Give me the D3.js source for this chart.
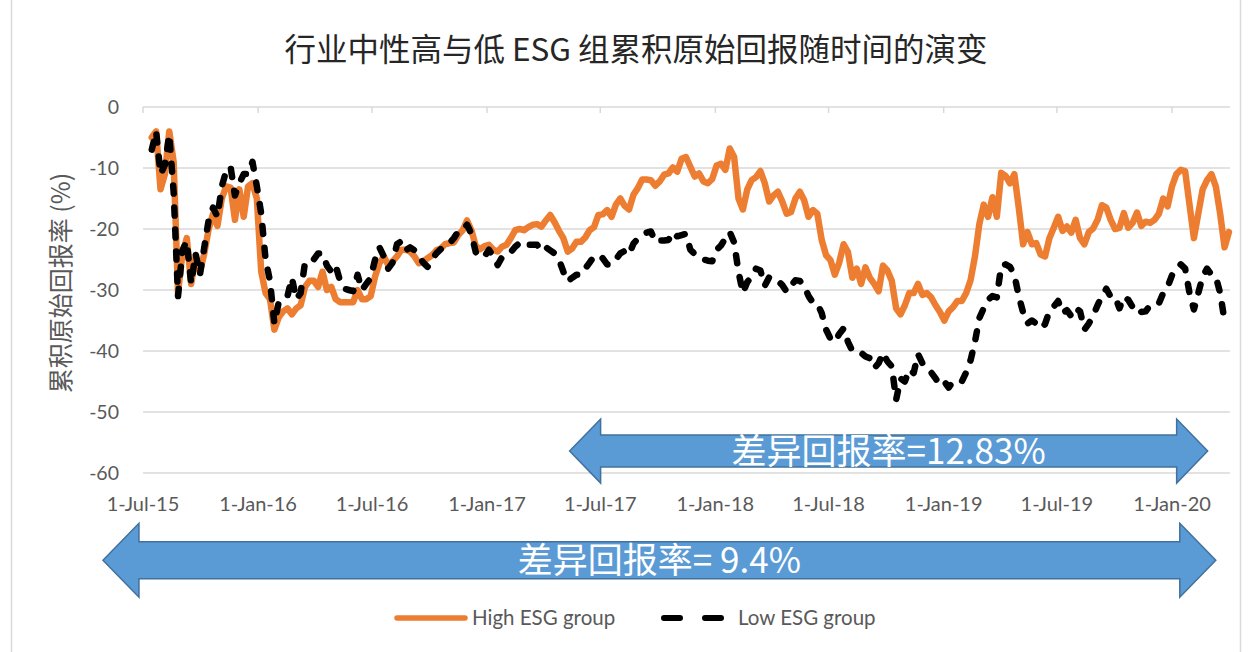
<!DOCTYPE html>
<html>
<head>
<meta charset="utf-8">
<script src="https://cdn.jsdelivr.net/npm/d3@7"></script>
<style>
  html, body { margin: 0; padding: 0; background: #fff; }
  svg { display: block; font-family: Lato, "Noto Sans CJK SC", sans-serif; }
</style>
</head>
<body>
<div class="chart"></div>
<script>
// weekly observations, first one on 15 Jul 2015
const firstWeek = "2015-07-15";

const highESG = [
  -5, -4, -13.5, -11, -4, -9, -30.5, -24, -21.5, -29,
  -24.5, -27, -24, -20, -17.5, -19.5, -15, -13, -13.2, -18.5,
  -13.5, -18, -13, -12.5, -15, -27, -30.5, -31.5, -36.5, -34.5,
  -33.5, -33, -34, -33, -32.5, -29.5, -28.5, -28.5, -29.5, -27,
  -30, -29.5, -31.5, -32, -32, -32, -32, -30, -31.5, -31.5,
  -31, -27.8, -25.6, -24.5, -25.9, -25.3, -24.5, -23.4, -23.4, -23.7,
  -24.5, -25.6, -25.3, -24.8, -24.3, -23.5, -23.2, -22.5, -22.3, -22.2,
  -21, -20.2, -18.6, -20.2, -22.8, -23.3, -22.8, -22.6, -23.4, -23.7,
  -22.9, -22.6, -21.5, -20.2, -20, -20.2, -19.7, -19.3, -19.2, -19.6,
  -18.6, -17.7, -18.9, -20.3, -21.5, -23.7, -23.2, -22.1, -22.1, -21.4,
  -20.2, -19.7, -17.7, -17.6, -16.9, -18, -16, -15, -16.2, -16.8,
  -14.4, -13.3, -11.9, -11.9, -12, -12.9, -12.2, -11.1, -10.9, -9.9,
  -10.6, -8.5, -8.2, -9.8, -11.4, -10.9, -12.2, -12.5, -11.8, -9.6,
  -9.3, -10.3, -6.8, -8.2, -15, -16.8, -13.5, -12, -11.5, -10.5,
  -12.5, -15.5, -14.5, -13.9, -15.5, -17.5, -17.2, -15, -13.9, -15.3,
  -18, -16.9, -17.5, -21.8, -24.3, -25.1, -27.5, -25.5, -22.5, -23.8,
  -28, -26.5, -29, -26.3, -28, -29, -30.2, -26, -26.8, -28.5,
  -33, -34, -32.5, -30.5, -30.5, -29, -30.8, -30.5, -31.2, -32.5,
  -33.6, -35, -33.5, -32.8, -31.8, -31.8, -30.5, -28.4, -24.5, -19.2,
  -16, -18, -14.8, -18, -10.8, -11.3, -12.5, -11, -16.5, -22.5,
  -20.5, -22.5, -22.3, -24.2, -24.5, -21.5, -19.8, -18, -20.3, -19.6,
  -20.6, -18.5, -21.5, -22.5, -20.5, -19.9, -18.5, -16.1, -16.5, -18.5,
  -20, -19.8, -17.4, -19.8, -19, -17.3, -19.5, -18.8, -19, -18.5,
  -17.5, -15, -16.3, -13, -11, -10.3, -10.5, -16, -21.5, -17.5,
  -13.5, -12, -11, -13, -17.5, -23, -20.5
];

const lowESG = [
  -7, -4, -11, -9.5, -4.5, -14, -31, -23.5, -22, -29,
  -24, -27.5, -23, -18.5, -16.5, -18, -13, -10.5, -9.8, -14.5,
  -12.5, -11, -11, -9, -13, -17.5, -25, -28.5, -35.5, -32,
  -31.5, -31, -28, -31.5, -30.5, -25.5, -25, -25, -24, -24,
  -26, -27, -26, -28.5, -29.8, -30, -30.2, -27.5, -30, -29,
  -28, -25, -23, -24.5, -26.5, -25.5, -22.5, -22, -23.5, -23,
  -23.5, -24.5, -25.5, -26.2, -25, -24, -23.3, -22.6, -22.3, -21.5,
  -20.4, -20.2, -19.3, -20.8, -23.8, -24.6, -24.5, -23.4, -24.5, -25.9,
  -24.6, -24, -23.8, -22.9, -22.3, -22.1, -22.6, -22.6, -22.6, -23.6,
  -23, -23.5, -24, -25, -27, -28.6, -28, -27.5, -27.5, -26.5,
  -25.5, -24.5, -24.3, -24.8, -25.8, -25.8, -25, -24, -23.6, -24.2,
  -22.4, -21.6, -21.2, -20.6, -20.4, -22.1, -21.9, -21.9, -21.8, -20.5,
  -21.2, -21, -20.8, -23.4, -24.1, -24.6, -25, -25.2, -25.3, -23.4,
  -22.7, -21.5, -20.5, -22.2, -27, -30.5, -28.7, -27.8, -26.5, -26.8,
  -29.3, -27.9, -28, -28.5, -29.2, -30.3, -29.3, -28.4, -28.5, -29.3,
  -31, -32.1, -32.2, -33.8, -36.5, -38, -38.5, -37.2, -36.3, -38.5,
  -40, -40.2, -40.3, -40.9, -41.2, -42.8, -42, -40.3, -41.7, -42.5,
  -48, -44.5, -45, -43, -43.6, -40.5, -42, -42.6, -43.5, -44.5,
  -45.5, -45, -46, -45, -45, -45, -43.5, -41.5, -38.5, -34.6,
  -33, -31.6, -31, -31.2, -26, -25.8, -26.2, -27.5, -31, -33.7,
  -35.5, -35, -35.5, -36.3, -35.6, -33.5, -32.7, -31.8, -33.8, -33.3,
  -34.3, -33, -33.5, -36.5, -35.5, -34.2, -32.5, -31, -29.8, -31.1,
  -31.1, -33, -31.1, -31.6, -32.8, -32.5, -33.6, -33.5, -32.5, -32.4,
  -32.2, -30.5, -29.5, -27.6, -26.5, -25.8, -26.5, -30.5, -33.2, -30.5,
  -27.8, -26.5, -27.5, -27.8, -30.5, -35, -35.5
];

const xTickDates = ["2015-07-01", "2016-01-01", "2016-07-01", "2017-01-01", "2017-07-01",
                    "2018-01-01", "2018-07-01", "2019-01-01", "2019-07-01", "2020-01-01"];
const yTicks = [0, -10, -20, -30, -40, -50, -60];

const seriesNames = ["High ESG group", "Low ESG group"];

const arrowNotes = [
  { label: "差异回报率=12.83%", from: "2017-05-13", to: "2020-02-27", level: -56.4 },
  { label: "差异回报率= 9.4%", from: "2015-04-28", to: "2020-03-11", level: -74.3 }
];

const title = "行业中性高与低 ESG 组累积原始回报随时间的演变";
const yTitle = "累积原始回报率 (%)";

// ---- drawing
const width = 1248, height = 652;
const parse = d3.utcParse("%Y-%m-%d");
const start = parse(firstWeek);
const dates = highESG.map((_, i) => d3.utcDay.offset(start, 7 * i));

const x0 = 143, xEndDate = parse("2020-04-01");
const x = d3.scaleUtc()
  .domain([parse("2015-07-01"), parse("2020-01-01")])
  .range([x0, 1172]);
const xRight = x(xEndDate) + 1;
const y = d3.scaleLinear().domain([-60, 0]).range([473, 107]);

const svg = d3.select(".chart").append("svg")
  .attr("width", width)
  .attr("height", height);

// outer frame of the chart object
svg.append("rect")
  .attr("x", 11.5).attr("y", -2)
  .attr("width", 1229).attr("height", height + 4)
  .attr("fill", "none")
  .attr("stroke", "#d9d9d9")
  .attr("stroke-width", 1.5);

// title
svg.append("text")
  .attr("x", 636).attr("y", 61)
  .attr("text-anchor", "middle")
  .style("font-family", "'Noto Sans CJK SC', sans-serif")
  .style("font-size", "31.5px")
  .attr("fill", "#262626")
  .text(title);

// gridlines
svg.append("g")
  .selectAll("line")
  .data(yTicks)
  .join("line")
  .attr("x1", x0).attr("x2", xRight)
  .attr("y1", d => y(d)).attr("y2", d => y(d))
  .attr("stroke", "#d9d9d9")
  .attr("stroke-width", 1.5);

// tick marks hanging from the zero line
svg.append("g")
  .selectAll("line")
  .data(xTickDates)
  .join("line")
  .attr("x1", d => x(parse(d))).attr("x2", d => x(parse(d)))
  .attr("y1", y(0)).attr("y2", y(0) + 6)
  .attr("stroke", "#d9d9d9")
  .attr("stroke-width", 1.5);

// y tick labels
svg.append("g")
  .selectAll("text")
  .data(yTicks)
  .join("text")
  .attr("x", 119)
  .attr("y", d => y(d))
  .attr("dy", "0.36em")
  .attr("text-anchor", "end")
  .style("font-size", "19.5px")
  .attr("fill", "#595959")
  .text(d => d);

// x tick labels, at the bottom of the plot
const fmt = d3.utcFormat("%-d-%b-%y");
svg.append("g")
  .selectAll("text")
  .data(xTickDates)
  .join("text")
  .attr("x", d => x(parse(d)))
  .attr("y", 511)
  .attr("text-anchor", "middle")
  .style("font-size", "20px")
  .attr("fill", "#595959")
  .text(d => fmt(parse(d)));

// y axis title
svg.append("text")
  .attr("transform", "translate(70,283) rotate(-90)")
  .attr("text-anchor", "middle")
  .style("font-family", "'Noto Sans CJK SC', sans-serif")
  .style("font-size", "25px")
  .attr("fill", "#595959")
  .text(yTitle);

// lines
const line = d3.line()
  .x((d, i) => x(dates[i]))
  .y(d => y(d))
  .curve(d3.curveLinear);

svg.append("path")
  .datum(highESG)
  .attr("fill", "none")
  .attr("stroke", "#ed7d31")
  .attr("stroke-width", 6.5)
  .attr("stroke-linejoin", "round")
  .attr("stroke-linecap", "round")
  .attr("d", line);

svg.append("path")
  .datum(lowESG)
  .attr("fill", "none")
  .attr("stroke", "#000")
  .attr("stroke-width", 6.5)
  .attr("stroke-linejoin", "round")
  .attr("stroke-linecap", "round")
  .attr("stroke-dasharray", "8,14")
  .attr("d", line);

// double headed arrows
const arrowSizes = [
  { head: 32, shaft: 16, headLen: 31, font: 35 },
  { head: 37, shaft: 18.5, headLen: 36, font: 35 }
];
arrowNotes.forEach((a, k) => {
  const s = arrowSizes[k];
  const xa = x(parse(a.from)), xb = x(parse(a.to)), cy = y(a.level);
  const pts = [
    [xa, cy], [xa + s.headLen, cy - s.head], [xa + s.headLen, cy - s.shaft],
    [xb - s.headLen, cy - s.shaft], [xb - s.headLen, cy - s.head], [xb, cy],
    [xb - s.headLen, cy + s.head], [xb - s.headLen, cy + s.shaft],
    [xa + s.headLen, cy + s.shaft], [xa + s.headLen, cy + s.head]
  ];
  svg.append("path")
    .attr("d", "M" + pts.map(p => p.join(",")).join("L") + "Z")
    .attr("fill", "#5b9bd5")
    .attr("stroke", "#41719c")
    .attr("stroke-width", 1.5);
  svg.append("text")
    .attr("x", (xa + xb) / 2)
    .attr("y", cy)
    .attr("dy", "0.36em")
    .attr("text-anchor", "middle")
    .style("font-family", "'Noto Sans CJK SC', sans-serif")
    .style("font-size", s.font + "px")
    .attr("fill", "#fff")
    .text(a.label);
});

// legend
const legend = svg.append("g").attr("transform", "translate(0,618)");
const legendItems = [
  { name: seriesNames[0], x: 397, color: "#ed7d31", dash: null, w: 5.5 },
  { name: seriesNames[1], x: 664, color: "#000", dash: "16,25", w: 6 }
];
legendItems.forEach(d => {
  legend.append("line")
    .attr("x1", d.x).attr("x2", d.x + (d.dash ? 60 : 68))
    .attr("y1", 0).attr("y2", 0)
    .attr("stroke", d.color)
    .attr("stroke-width", d.w)
    .attr("stroke-linecap", "round")
    .attr("stroke-dasharray", d.dash);
  legend.append("text")
    .attr("x", d.x + (d.dash ? 74 : 75))
    .attr("y", 0)
    .attr("dy", "0.35em")
    .style("font-size", "20.5px")
    .attr("fill", "#595959")
    .text(d.name);
});
</script>
</body>
</html>
